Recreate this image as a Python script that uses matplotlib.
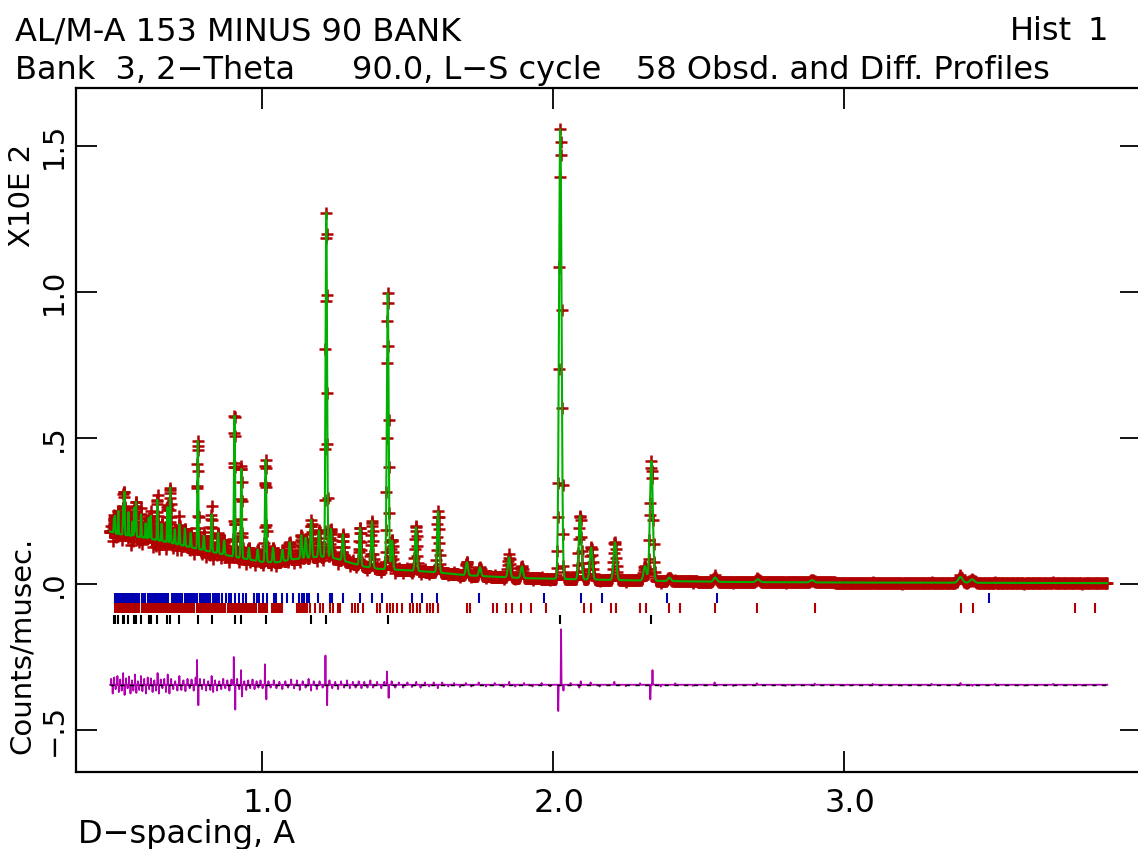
import numpy as np
import matplotlib
matplotlib.use("Agg")
import matplotlib.pyplot as plt
from matplotlib.transforms import blended_transform_factory as blend

# ---------------- data ----------------
d_start, d_end, d_step_rel = 0.478, 3.905, 0.0008

bg_d = [0.478, 0.50, 0.60, 0.70, 0.79, 0.90, 1.00, 1.05, 1.10, 1.20, 1.25, 1.30, 1.35,
        1.40, 1.50, 1.60, 1.70, 1.80, 1.90, 2.00, 2.20, 2.40, 2.60, 3.00, 3.50, 3.905]
bg_val = [0.180, 0.172, 0.158, 0.138, 0.118, 0.094, 0.076, 0.074, 0.084, 0.094, 0.088, 0.074, 0.060,
          0.052, 0.047, 0.040, 0.030, 0.025, 0.020, 0.018, 0.014, 0.010, 0.007, 0.005, 0.004, 0.003]

peak_d = [0.4911, 0.4947, 0.5062, 0.5228, 0.5272, 0.5411, 0.5616, 0.5670, 0.5845, 0.6105,
          0.6175, 0.6403, 0.6749, 0.6845, 0.7159, 0.7793, 0.8266, 0.9055, 0.9290, 1.0124,
          1.1690, 1.2210, 1.4320, 2.0250, 2.3380,
          0.555, 0.600, 0.655, 0.700, 0.735, 0.755, 0.800, 0.849, 0.870, 0.955, 0.985,
          1.038, 1.070, 1.095, 1.135, 1.150, 1.196, 1.237, 1.278, 1.337, 1.378, 1.447,
          1.529, 1.605, 1.704, 1.749, 1.849, 1.893, 2.093, 2.131, 2.213, 2.316, 2.400,
          2.557, 2.704, 2.890, 3.400, 3.440]
peak_h = [0.05, 0.06, 0.08, 0.10, 0.15, 0.08, 0.10, 0.12, 0.08, 0.07,
          0.08, 0.14, 0.12, 0.19, 0.07, 0.37, 0.13, 0.49, 0.31, 0.35,
          0.13, 1.18, 0.95, 1.55, 0.41,
          0.05, 0.05, 0.06, 0.05, 0.06, 0.05, 0.05, 0.07, 0.05, 0.04, 0.04,
          0.05, 0.04, 0.06, 0.08, 0.07, 0.09, 0.10, 0.09, 0.13, 0.16, 0.10,
          0.15, 0.21, 0.045, 0.03, 0.07, 0.04, 0.22, 0.11, 0.13, 0.05, 0.012,
          0.015, 0.010, 0.008, 0.020, 0.012]
peak_fwhm_rel = 0.005

resid_d = [0.482, 0.487, 0.492, 0.497, 0.503, 0.508, 0.513, 0.518, 0.523, 0.528, 0.533, 0.538,
           0.543, 0.548, 0.553, 0.558, 0.563, 0.568, 0.573, 0.578, 0.584, 0.589, 0.595, 0.601,
           0.607, 0.612, 0.618, 0.624, 0.630, 0.636, 0.641, 0.646, 0.652, 0.658, 0.664, 0.670,
           0.676, 0.682, 0.688, 0.695, 0.702, 0.709, 0.716, 0.723, 0.730, 0.737, 0.744, 0.751,
           0.758, 0.765, 0.772, 0.777, 0.781, 0.787, 0.794, 0.801, 0.808, 0.815, 0.822, 0.827,
           0.832, 0.839, 0.846, 0.853, 0.860, 0.867, 0.874, 0.881, 0.888, 0.895, 0.903, 0.908,
           0.915, 0.922, 0.928, 0.932, 0.939, 0.946, 0.953, 0.960, 0.967, 0.974, 0.981, 0.988,
           0.995, 1.002, 1.010, 1.015, 1.022, 1.030, 1.040, 1.050, 1.060, 1.070, 1.080, 1.090,
           1.100, 1.110, 1.120, 1.130, 1.140, 1.150, 1.160, 1.168, 1.178, 1.188, 1.198, 1.208,
           1.218, 1.224, 1.232, 1.242, 1.252, 1.262, 1.272, 1.282, 1.292, 1.302, 1.312, 1.322,
           1.332, 1.342, 1.352, 1.362, 1.372, 1.382, 1.395, 1.410, 1.420, 1.429, 1.435, 1.445,
           1.458, 1.470, 1.485, 1.500, 1.515, 1.530, 1.545, 1.560, 1.575, 1.590, 1.604, 1.620,
           1.640, 1.660, 1.680, 1.700, 1.720, 1.745, 1.770, 1.800, 1.830, 1.850, 1.870, 1.900,
           1.930, 1.960, 1.990, 2.018, 2.028, 2.036, 2.060, 2.090, 2.095, 2.130, 2.160, 2.210,
           2.250, 2.300, 2.335, 2.342, 2.370, 2.420, 2.480, 2.556, 2.620, 2.700, 2.800, 2.900,
           3.000, 3.100, 3.200, 3.300, 3.400, 3.440, 3.520, 3.620, 3.720, 3.820]
resid_val = [0.020, -0.030, 0.025, -0.015, 0.030, -0.025, 0.018, -0.020, 0.040, -0.035, 0.022, -0.012,
             0.028, -0.030, 0.015, -0.020, 0.035, -0.028, 0.012, -0.018, 0.030, -0.022, 0.020, -0.030,
             0.025, -0.015, 0.022, -0.025, 0.015, -0.020, 0.040, -0.030, 0.018, -0.012, 0.020, -0.025,
             0.035, -0.030, 0.020, -0.015, 0.012, -0.020, 0.030, -0.018, 0.015, -0.022, 0.020, -0.012,
             0.018, -0.020, 0.025, 0.085, -0.070, 0.020, -0.015, 0.018, -0.020, 0.012, -0.018, 0.030,
             -0.025, 0.015, -0.020, 0.012, -0.015, 0.020, -0.012, 0.015, -0.020, 0.018, 0.095, -0.085,
             0.020, -0.015, 0.050, -0.040, 0.012, -0.018, 0.015, -0.012, 0.018, -0.015, 0.012, -0.010,
             0.015, -0.012, 0.070, -0.050, 0.012, -0.010, 0.015, -0.012, 0.010, -0.015, 0.012, -0.010,
             0.018, -0.012, 0.015, -0.018, 0.012, -0.010, 0.020, -0.020, 0.012, -0.015, 0.012, -0.010,
             0.100, -0.070, 0.015, -0.012, 0.010, -0.015, 0.012, -0.010, 0.015, -0.012, 0.010, -0.010,
             0.012, -0.012, 0.010, -0.010, 0.015, -0.010, 0.010, -0.012, 0.010, 0.045, -0.045, 0.012,
             -0.010, 0.008, -0.010, 0.008, -0.008, 0.010, -0.010, 0.008, -0.006, 0.008, -0.012, 0.008,
             -0.006, 0.006, -0.008, 0.006, -0.006, 0.008, -0.006, 0.006, -0.008, 0.010, -0.006, 0.006,
             -0.006, 0.006, -0.005, -0.090, 0.190, -0.020, 0.006, -0.010, 0.012, 0.008, -0.006, 0.010,
             -0.005, 0.005, -0.050, 0.050, -0.006, 0.005, -0.004, 0.008, -0.004, 0.005, -0.004, 0.004,
             -0.003, 0.003, -0.003, 0.003, 0.006, -0.004, 0.003, -0.003, 0.003, -0.003]

diff_offset = -0.345

refl_blue = [0.495, 0.502, 0.509, 0.516, 0.523, 0.530, 0.537, 0.544, 0.551, 0.558, 0.565, 0.572,
             0.579, 0.586, 0.593, 0.598, 0.608, 0.615, 0.622, 0.629, 0.636, 0.643, 0.650, 0.657,
             0.664, 0.671, 0.677, 0.691, 0.698, 0.705, 0.712, 0.719, 0.725, 0.735, 0.742, 0.749,
             0.756, 0.763, 0.770, 0.777, 0.787, 0.794, 0.801, 0.808, 0.815, 0.821, 0.832, 0.839,
             0.846, 0.853, 0.863, 0.876, 0.887, 0.893, 0.907, 0.921, 0.935, 0.945, 0.973, 0.983,
             0.990, 1.003, 1.017, 1.041, 1.048, 1.069, 1.086, 1.107, 1.127, 1.137, 1.144, 1.155,
             1.162, 1.192, 1.234, 1.241, 1.278, 1.337, 1.378, 1.412, 1.515, 1.550, 1.601, 1.746,
             1.969, 2.096, 2.168, 2.392, 2.564, 3.498]
refl_red = [0.495, 0.502, 0.509, 0.516, 0.523, 0.530, 0.537, 0.544, 0.551, 0.558, 0.565, 0.572,
            0.579, 0.586, 0.593, 0.600, 0.607, 0.614, 0.621, 0.628, 0.635, 0.642, 0.649, 0.656,
            0.663, 0.670, 0.677, 0.684, 0.691, 0.698, 0.705, 0.712, 0.719, 0.726, 0.733, 0.740,
            0.747, 0.754, 0.761, 0.768, 0.775, 0.782, 0.789, 0.796, 0.803, 0.810, 0.817, 0.824,
            0.831, 0.838, 0.845, 0.852, 0.859, 0.866, 0.873,
            0.883, 0.890, 0.897, 0.904, 0.911, 0.918, 0.925, 0.932, 0.939, 0.946, 0.953, 0.960,
            0.967, 0.974, 0.981, 0.988, 0.995, 1.002, 1.009, 1.016,
            1.034, 1.041, 1.048, 1.055, 1.062, 1.069, 1.120, 1.127, 1.134, 1.141, 1.148, 1.155,
            1.165, 1.182, 1.199, 1.210, 1.234, 1.244, 1.261, 1.268, 1.309, 1.320, 1.330, 1.347,
            1.395, 1.405, 1.430, 1.440, 1.450, 1.464, 1.481, 1.509, 1.519, 1.533, 1.543, 1.567,
            1.577, 1.588, 1.605, 1.704, 1.715, 1.794, 1.808, 1.838, 1.859, 1.890, 1.924, 1.976,
            2.107, 2.131, 2.199, 2.216, 2.299, 2.320, 2.399, 2.436, 2.557, 2.701, 2.900, 3.402,
            3.443, 3.794, 3.863]
refl_black = [0.4911, 0.4947, 0.5062, 0.5228, 0.5272, 0.5411, 0.5616, 0.5670, 0.5845, 0.6105,
              0.6175, 0.6403, 0.6749, 0.6845, 0.7159, 0.7793, 0.8266, 0.9055, 0.9290, 1.0124,
              1.1690, 1.2210, 1.4320, 2.0250, 2.3380]

# ---------------- profile ----------------
n_pts = int(np.log(d_end / d_start) / d_step_rel) + 1
d = np.geomspace(d_start, d_end, n_pts)
calc = np.interp(d, bg_d, bg_val)
for p0, h in zip(peak_d, peak_h):
    fw = peak_fwhm_rel * p0
    calc = calc + h * np.exp(-4 * np.log(2) * ((d - p0) / fw) ** 2)
obs = calc.copy()
for rd, rv in zip(resid_d, resid_val):
    obs[np.argmin(np.abs(d - rd))] += rv
diff = obs - calc + diff_offset

# ---------------- figure ----------------
W, H = 1138, 849
plt.rcParams['font.family'] = ['DejaVu Sans']
fig = plt.figure(figsize=(W / 100, H / 100), dpi=100)
ax = fig.add_axes([76 / W, 1 - 772 / H, (1141 - 76) / W, (772 - 88) / H])
ax.set_xlim(0.3608, 4.0206)
ax.set_ylim(-0.6438, 1.6986)

RED = '#b00000'
GREEN = '#00b000'
BLUE = '#0000b0'
PURPLE = '#b000b0'

ax.plot(d, obs, '+', color=RED, ms=9, mew=1.8, zorder=2)
ax.plot(d, calc, color=GREEN, lw=1.5, zorder=3)
ax.plot(d, diff, color=PURPLE, lw=1.3, zorder=3)
ax.plot([d[0], d[-1]], [diff_offset, diff_offset], color='black', lw=1.0,
        ls=(0, (3, 4)), zorder=4)

ax.vlines(refl_blue, -0.065, -0.031, color=BLUE, lw=1.5)
ax.vlines(refl_red, -0.099, -0.065, color=RED, lw=1.5)
ax.vlines(refl_black, -0.137, -0.106, color='black', lw=1.5)

for s in ['left', 'top', 'bottom']:
    ax.spines[s].set_linewidth(1.6)
ax.spines['right'].set_visible(False)
ax.set_xticks([1.0, 2.0, 3.0])
ax.set_yticks([-0.5, 0.0, 0.5, 1.0, 1.5])
ax.tick_params(direction='in', length=15, width=1.3, top=True, right=True,
               labelbottom=False, labelleft=False)

fs = 23
fs_side = 21

def ftext(x, y, s, size=fs, **kw):
    fig.text(x / W, 1 - y / H, s, fontsize=size, **kw)

ftext(15, 40, "AL/M-A 153 MINUS 90 BANK", va='baseline')
ftext(1072, 40, "Hist", ha='right', va='baseline')
ftext(1108, 40, "1", ha='right', va='baseline')
ftext(15, 79, "Bank  3, 2\u2212Theta", va='baseline')
ftext(352, 79, "90.0, L\u2212S cycle", va='baseline')
ftext(1050, 79, "58 Obsd. and Diff. Profiles", ha='right', va='baseline')
ftext(22, 195, "X10E 2", size=fs_side, rotation=90, ha='center', va='center')
ftext(22, 645, "Counts/musec.", size=fs_side, rotation=90, ha='center', va='center')
ftext(78, 843, "D\u2212spacing, A", va='baseline')

ytr = blend(fig.transFigure, ax.transData)
for val, lab in zip([-0.5, 0.0, 0.5, 1.0, 1.5], ['\u2212.5', '.0', '.5', '1.0', '1.5']):
    ax.text(54 / W, val, lab, transform=ytr, rotation=90, ha='center', va='center', fontsize=fs_side)
xtr = blend(ax.transData, fig.transFigure)
for val, lab in zip([1.0, 2.0, 3.0], ['1.0', '2.0', '3.0']):
    ax.text(val + 0.02, 1 - 812 / H, lab, transform=xtr, ha='center', va='baseline', fontsize=fs)

fig.savefig("out.png", dpi=100)
